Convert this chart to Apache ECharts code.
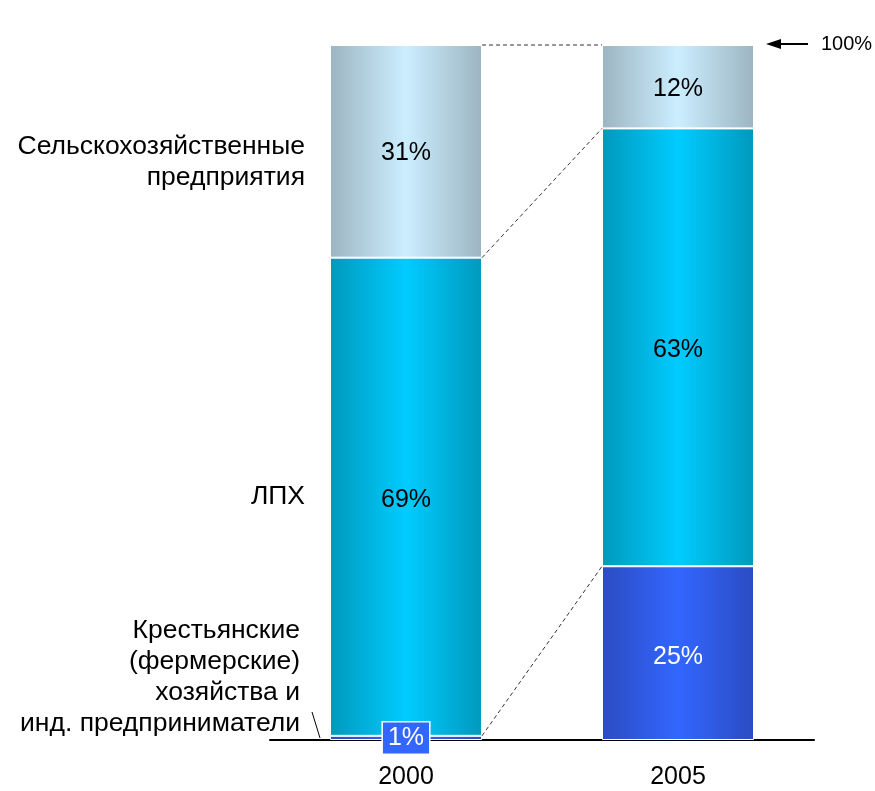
<!DOCTYPE html>
<html><head><meta charset="utf-8">
<script src="https://cdn.jsdelivr.net/npm/echarts@6/dist/echarts.min.js"></script>
<style>html,body{margin:0;padding:0;background:#fff}#c{width:875px;height:791px}</style>
</head><body><div id="c"></div>
<script>
const years = ['2000', '2005'];
const farmers = [0.6, 25];
const lph = [68.8, 63];
const agri = [30.6, 12];
const rowLabels = ['Сельскохозяйственные\nпредприятия', 'ЛПХ', 'Крестьянские\n(фермерские)\nхозяйства и\nинд. предприниматели'];

const FONT = 'Liberation Sans, Arial, sans-serif';
const FS = 25;
const BW = 152;
function grad(edge, center) {
  return new echarts.graphic.LinearGradient(0, 0, 1, 0, [
    {offset: 0, color: edge}, {offset: 0.5, color: center}, {offset: 1, color: edge}
  ]);
}
const pct = p => Math.round(p.value) + '%';
const chart = echarts.init(document.getElementById('c'));
chart.setOption({
  animation: false,
  grid: {left: 270, right: 61, top: 45, bottom: 51},
  xAxis: {
    type: 'category', data: years,
    axisLine: {lineStyle: {color: '#000', width: 2}},
    axisTick: {show: false},
    axisLabel: {color: '#000', fontSize: FS, fontFamily: FONT, margin: 25}
  },
  yAxis: {type: 'value', min: 0, max: 100, show: false},
  series: [
    {type: 'bar', stack: 't', barWidth: BW,
     itemStyle: {color: grad('#2b4cc2', '#3366ff'), borderColor: '#fff', borderWidth: 1},
     label: {show: true, position: 'inside', formatter: pct, color: '#fff', fontSize: FS, fontFamily: FONT, offset: [0, 4]},
     data: farmers.map((v, i) => i === 0 ? {value: v, label: {offset: [0, 0], backgroundColor: '#3366ff', borderColor: '#fff', borderWidth: 1.5, padding: [4, 5, 2, 5]}} : v)},
    {type: 'bar', stack: 't', data: lph, barWidth: BW,
     itemStyle: {color: grad('#0099bb', '#00ccff'), borderColor: '#fff', borderWidth: 1},
     label: {show: true, position: 'inside', formatter: pct, color: '#000', fontSize: FS, fontFamily: FONT, offset: [0, 3]}},
    {type: 'bar', stack: 't', data: agri, barWidth: BW,
     itemStyle: {color: grad('#9db4c2', '#cbeeff'), borderColor: '#fff', borderWidth: 1},
     label: {show: true, position: 'inside', formatter: pct, color: '#000', fontSize: FS, fontFamily: FONT, offset: [0, 2]}}
  ]
});

const half = BW / 2;
const gfx = [];
const levels = [0, 1, 2].map(k => years.map((y, i) => {
  let s = farmers[i];
  if (k >= 1) s += lph[i];
  if (k >= 2) s += agri[i];
  return s;
}));
levels.forEach(lv => {
  const a = chart.convertToPixel({gridIndex: 0}, [years[0], lv[0]]);
  const b = chart.convertToPixel({gridIndex: 0}, [years[1], lv[1]]);
  gfx.push({type: 'line', shape: {x1: a[0] + half, y1: a[1], x2: b[0] - half, y2: b[1]},
            style: {stroke: '#333', lineWidth: 1, lineDash: [4, 3]}, z: 10});
});
// Arrow to 100%
const topPx = chart.convertToPixel({gridIndex: 0}, [years[1], 100]);
const ty = topPx[1] - 1;
gfx.push({type: 'line', shape: {x1: 808, y1: ty, x2: 776, y2: ty}, style: {stroke: '#000', lineWidth: 2}});
gfx.push({type: 'polygon', shape: {points: [[766, ty], [781, ty - 5], [781, ty + 5]]}, style: {fill: '#000'}});
gfx.push({type: 'text', x: 821, y: ty, style: {text: '100%', font: '20px ' + FONT, fill: '#000', verticalAlign: 'middle'}});
// Row labels
const lx = [305, 305, 300];
const ly = [162, 497, 615];
const lva = ['middle', 'middle', 'top'];
rowLabels.forEach((t, i) => {
  gfx.push({type: 'text', x: lx[i], y: ly[i],
            style: {text: t, font: '26.5px ' + FONT, fill: '#000', align: 'right', verticalAlign: lva[i], lineHeight: 31}});
});
gfx.push({type: 'line', shape: {x1: 312, y1: 712, x2: 320, y2: 738}, style: {stroke: '#000', lineWidth: 1}});
chart.setOption({graphic: gfx});
</script></body></html>
